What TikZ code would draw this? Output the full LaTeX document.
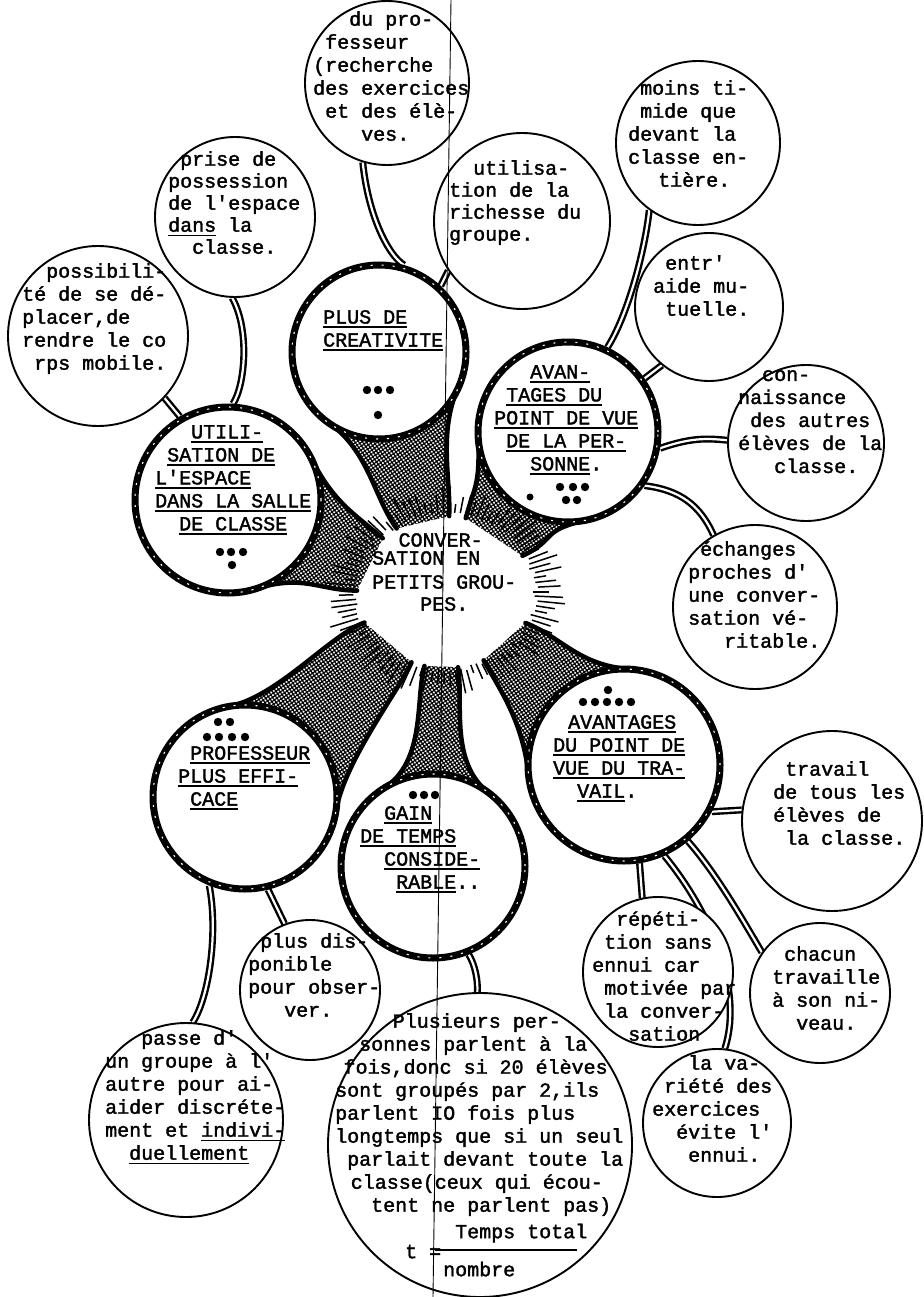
\documentclass[tikz,border=0pt]{standalone}
\usepackage{fontspec}
\setmainfont{Liberation Mono}
\newfontfamily\tw[FakeBold=1.8]{Liberation Mono}
\usetikzlibrary{calc,patterns.meta}
\pgfdeclarelayer{back}
\pgfsetlayers{back,main}
\newlength\chw \setlength\chw{12pt}
\newcommand\ind[1]{\hspace*{#1\chw}}
\newsavebox\ulbox
\newcommand\ul[1]{\sbox\ulbox{#1}\rlap{\rule[-4.5pt]{\wd\ulbox}{1.6pt}}\usebox\ulbox}
\def\rx{88}
\def\ry{76}
\newcommand\tailof[5]{%
  \coordinate (P1) at ($(#1.center)+({#3+180+#4}:#2)$);
  \coordinate (P2) at ($(#1.center)+({#3+180-#4}:#2)$);
  \coordinate (T1) at ($(O)+({#3-#5}:{\rx} and {\ry})$);
  \coordinate (T2) at ($(O)+({#3+#5}:{\rx} and {\ry})$);
  \coordinate (C1) at ($(P1)!0.55!90:(#1.center)$);
  \coordinate (C4) at ($(P2)!0.55!-90:(#1.center)$);
  \coordinate (C2) at ($(O)!1.45!(T1)$);
  \coordinate (C3) at ($(O)!1.45!(T2)$);
  \fill[hatch] (P1) .. controls (C1) and (C2) .. (T1) -- (T2) .. controls (C3) and (C4) .. (P2) -- cycle;
  \draw[tailline] (P1) .. controls (C1) and (C2) .. (T1);
  \draw[tailline] (T2) .. controls (C3) and (C4) .. (P2);
}
\begin{document}
\begin{tikzpicture}[x=1pt,y=1pt,
  smallc/.style={circle, draw, line width=1.9pt, fill=white, inner sep=0pt},
  bigc/.style={circle, draw, line width=7pt, fill=white, inner sep=0pt,
    postaction={draw=white, line width=1.1pt, dash pattern=on 2pt off 9pt}},
  txt/.style={align=left, inner sep=0pt, anchor=north west, yshift=18pt,
    execute at begin node={\rule{0pt}{18pt}},
    font=\tw\fontsize{20}{23}\selectfont},
  tube/.style={line width=2.4pt, double=white, double distance=2.2pt},
  tailline/.style={line width=4.5pt, line cap=round},
  hatch/.style={pattern={Hatch[angle=35,distance=3.1pt,line width=1.2pt]}},
  ray/.style={line width=1.5pt},
  dot/.style={fill=black}
]
\useasboundingbox (0,0) rectangle (923,-1297);
\coordinate (O) at (445,-592);

% thick circles
\node[bigc, minimum size=174] (crea) at (379,-352) {};
\node[bigc, minimum size=186] (util) at (228,-500) {};
\node[bigc, minimum size=180] (pers) at (568,-432) {};
\node[bigc, minimum size=184] (prof) at (245,-797) {};
\node[bigc, minimum size=184] (gain) at (433,-866) {};
\node[bigc, minimum size=192] (trav) at (624,-765) {};

% thin circles
\node[smallc, minimum size=164] (a) at (387,-83) {};
\node[smallc, minimum size=160] (b) at (235,-217) {};
\node[smallc, minimum size=180] (c) at (98,-336) {};
\node[smallc, minimum size=176] (d) at (522,-221) {};
\node[smallc, minimum size=164] (e) at (698,-143) {};
\node[smallc, minimum size=148] (f) at (709,-307) {};
\node[smallc, minimum size=156] (g) at (806,-443) {};
\node[smallc, minimum size=164] (h) at (755,-607) {};
\node[smallc, minimum size=180] (i) at (832,-821) {};
\node[smallc, minimum size=150] (j) at (658,-972) {};
\node[smallc, minimum size=140] (k) at (820,-993) {};
\node[smallc, minimum size=148] (l) at (717,-1123) {};
\node[smallc, minimum size=140] (m) at (310,-990) {};
\node[smallc, minimum size=194] (n) at (186,-1120) {};
\node[smallc, minimum size=304] (o) at (480,-1145) {};

\begin{pgfonlayer}{back}
  \tailof{crea}{87}{105.3}{50}{18}
  \tailof{util}{93}{157}{50}{22}
  \tailof{pers}{90}{52.4}{50}{24}
  \tailof{prof}{92}{225.7}{55}{22}
  \tailof{gain}{92}{267.5}{35}{11}
  \tailof{trav}{96}{316}{50}{20}
  \pgfmathsetseed{3}
  \foreach \ang in {0,3.5,...,357}{
    \pgfmathsetmacro\ra{1+0.06*rnd}
    \pgfmathsetmacro\rb{\ra+0.1+0.25*rnd}
    \pgfmathsetmacro\xa{\rx*\ra}
    \pgfmathsetmacro\ya{\ry*\ra}
    \pgfmathsetmacro\xb{\rx*\rb}
    \pgfmathsetmacro\yb{\ry*\rb}
    \draw[ray] ($(O)+(\ang:{\xa} and {\ya})$) -- ($(O)+(\ang:{\xb} and {\yb})$);
  }
  % tubes
  \draw[tube] (a.253) .. controls (368,-215) and (388,-255) .. (crea.74);
  \draw[tube] (b.268) .. controls (250,-330) and (245,-385) .. (util.87);
  \draw[tube] (c.317) -- (util.120);
  \draw[tube] (d.214) -- (crea.47);
  \draw[tube] (e.234) .. controls (645,-250) and (628,-315) .. (pers.65);
  \draw[tube] (f.231) -- (pers.35);
  \draw[tube] (pers.350) .. controls (690,-438) and (705,-438) .. (g.178);
  \draw[tube] (pers.325) .. controls (680,-490) and (700,-505) .. (h.120);
  \draw[tube] (trav.332) -- (i.173);
  \draw[tube] (trav.279) -- (j.102);
  \draw[tube] (trav.310) .. controls (715,-872) and (740,-915) .. (k.145);
  \draw[tube] (trav.294) .. controls (705,-905) and (745,-985) .. (l.84);
  \draw[tube] (prof.248) .. controls (218,-930) and (210,-995) .. (n.86);
  \draw[tube] (prof.284) -- (m.111);
  \draw[tube] (gain.292) .. controls (475,-965) and (478,-980) .. (o.91);
\end{pgfonlayer}

% texts in thin circles
\node[txt] (ta) at (313,-29) {\ind{3}du pro-\\\ind{1}fesseur\\(recherche\\des exercices\\\ind{1}et des élè-\\\ind{4}ves.};
\node[txt, font=\tw\fontsize{20}{22}\selectfont] (tb) at (168,-169) {\ind{1}prise de\\possession\\de l'espace\\\ul{dans} la\\\ind{2}classe.};
\node[txt] (tc) at (22,-281) {\ind{2}possibili-\\té de se dé-\\placer,de\\rendre le co\\\ind{1}rps mobile.};
\node[txt, font=\tw\fontsize{20}{22}\selectfont] (td) at (449,-178) {\ind{2}utilisa-\\tion de la\\richesse du\\groupe.};
\node[txt] (te) at (628,-98) {\ind{1}moins ti-\\\ind{1}mide que\\devant la\\classe en-\\\ind{2.5}tière.};
\node[txt] (tf) at (653,-273) {\ind{1}entr'\\aide mu-\\\ind{1}tuelle.};
\node[txt] (tg) at (738,-388) {\ind{2}con-\\naissance\\\ind{1}des autres\\élèves de la\\\ind{3}classe.};
\node[txt] (th) at (688,-559) {\ind{1}échanges\\proches d'\\une conver-\\sation vé-\\\ind{3}ritable.};
\node[txt] (ti) at (773,-779) {\ind{1}travail\\de tous les\\élèves de\\\ind{1}la classe.};
\node[txt] (tj) at (592,-929) {\ind{2}répéti-\\\ind{1}tion sans\\ennui car\\\ind{1}motivée par\\\ind{1}la conver-\\\ind{3}sation};
\node[txt] (tk) at (772,-964) {\ind{1}chacun\\travaille\\à son ni-\\\ind{2}veau.};
\node[txt] (tl) at (652,-1073) {\ind{3}la va-\\\ind{1}riété des\\exercices\\\ind{2}évite l'\\\ind{3}ennui.};
\node[txt] (tm) at (248,-951) {\ind{1}plus dis-\\ponible\\pour obser-\\\ind{3}ver.};
\node[txt] (tn) at (105,-1048) {\ind{3}passe d'\\un groupe à l'\\autre pour ai-\\aider discréte-\\ment et \ul{indivi-}\\\ind{2}\ul{duellement}};
\node[txt] (to) at (335,-1031) {\ind{4.8}Plusieurs per-\\\ind{2}sonnes parlent à la\\\ind{0.7}fois,donc si 20 élèves\\sont groupés par 2,ils\\parlent IO fois plus\\longtemps que si un seul\\\ind{1}parlait devant toute la\\\ind{1.3}classe(ceux qui écou-\\\ind{3}tent ne parlent pas)};
\node[txt] (tnum) at (455,-1238) {Temps total};
\node[txt] (teq) at (405,-1258) {t =};
\node[txt] (tden) at (443,-1276) {nombre};
\draw[line width=1.2pt] (435,-1250) -- (577,-1250);

% titles in thick circles
\node[txt] (tcrea) at (323,-328) {\ul{PLUS DE}\\\ul{CREATIVITE}};
\node[txt] (tutil) at (155,-443) {\ind{3}\ul{UTILI-}\\\ind{1}\ul{SATION DE}\\\ul{L'ESPACE}\\\ul{DANS LA SALLE}\\\ind{2}\ul{DE CLASSE}};
\node[txt] (tpers) at (494,-383) {\ind{3}\ul{AVAN-}\\\ind{1}\ul{TAGES DU}\\\ul{POINT DE VUE}\\\ind{1}\ul{DE LA PER-}\\\ind{3}\ul{SONNE}.};
\node[txt] (tprof) at (178,-764) {\ind{1}\ul{PROFESSEUR}\\\ul{PLUS EFFI-}\\\ind{1}\ul{CACE}};
\node[txt] (tgain) at (360,-824) {\ind{2}\ul{GAIN}\\\ul{DE TEMPS}\\\ind{2}\ul{CONSIDE-}\\\ind{3}\ul{RABLE}..};
\node[txt] (ttrav) at (553,-733) {\ind{1.25}\ul{AVANTAGES}\\\ul{DU POINT DE}\\\ul{VUE DU TRA-}\\\ind{2}\ul{VAIL}.};
\node[txt] (ctr) at (372,-551) {\ind{2.2}CONVER-\\[-5pt]SATION EN\\[1pt]PETITS GROU-\\[-1pt]\ind{4}PES.};

% dots
\foreach \x in {367,378,390} \fill[dot] (\x,-390) circle[radius=4.2];
\fill[dot] (378,-415) circle[radius=4.2];
\foreach \x in {220,231,243} \fill[dot] (\x,-552) circle[radius=4.2];
\fill[dot] (232,-565) circle[radius=4.2];
\foreach \x in {560,573,585} \fill[dot] (\x,-487) circle[radius=4.2];
\foreach \x in {566,577} \fill[dot] (\x,-500) circle[radius=4.2];
\fill[dot] (530,-497) circle[radius=3.5];
\foreach \x in {218,230} \fill[dot] (\x,-722) circle[radius=4.2];
\foreach \x in {207,219,232,245} \fill[dot] (\x,-737) circle[radius=4.2];
\foreach \x in {413,424,435} \fill[dot] (\x,-795) circle[radius=4.2];
\fill[dot] (608,-690) circle[radius=4.2];
\foreach \x in {583,595,607,619,631} \fill[dot] (\x,-702) circle[radius=4.2];

% scan line
\draw[line width=0.9pt] (451,0) -- (433,-1297);
\end{tikzpicture}
\end{document}
